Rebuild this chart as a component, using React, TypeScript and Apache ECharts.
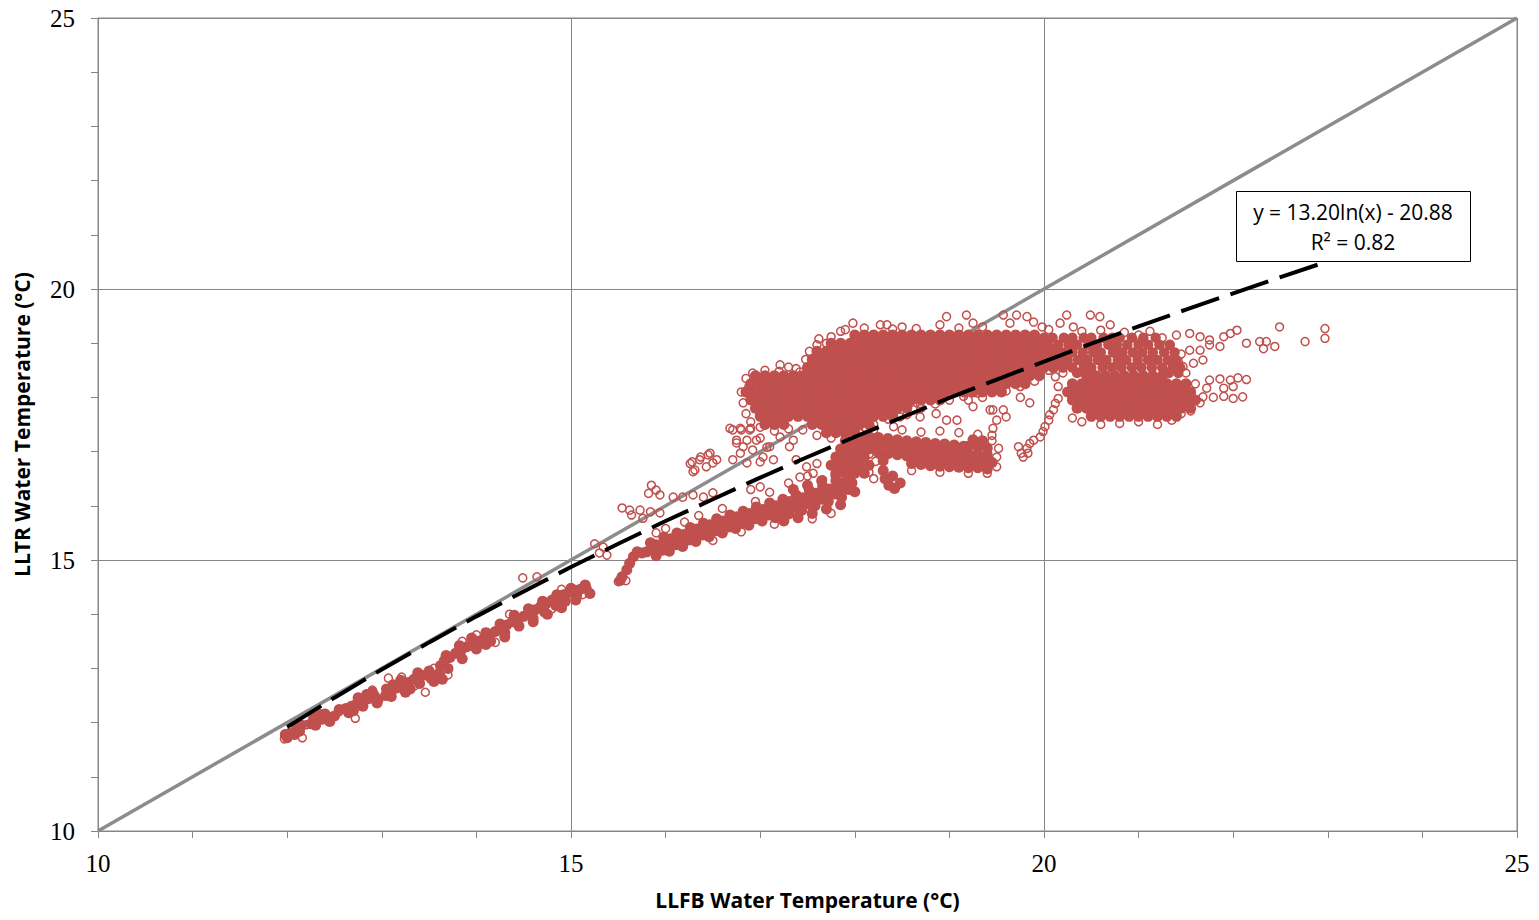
import React, { useEffect, useRef } from "react";
import * as echarts from "echarts";

// Axis settings (°C)
const AXIS_MIN = 10;
const AXIS_MAX = 25;
const AXIS_STEP = 5;

// 1:1 reference line
const DIAG_X = [10, 25];
const DIAG_Y = [10, 25];

// Logarithmic trend line y = 13.20ln(x) - 20.88
const TREND_X = [12, 12.5, 13, 13.5, 14, 14.5, 15, 15.5, 16, 16.5, 17, 17.5, 18, 18.5, 19, 19.5, 20, 20.5, 21, 21.5, 22, 22.5, 23];
const TREND_Y = [11.92, 12.46, 12.98, 13.48, 13.96, 14.42, 14.87, 15.3, 15.72, 16.12, 16.52, 16.9, 17.27, 17.63, 17.99, 18.33, 18.66, 18.99, 19.31, 19.62, 19.92, 20.22, 20.51];

const EQUATION = "y = 13.20ln(x) - 20.88";
const R2_TEXT = "R² = 0.82";

// Dense (solid-looking) parts of the cloud: each row is [y, x1, x2, ...]
const UPPER_CORE_ROWS: number[][] = [
  [19.15, 18.0, 18.1, 18.2, 18.3, 18.4, 18.5, 18.6, 18.7, 18.8, 18.9, 19.0, 19.1, 19.2, 19.3, 19.4, 19.5, 19.6, 19.7, 19.8, 19.9],
  [19.0, 17.75, 17.85, 17.95, 18.05, 18.15, 18.25, 18.35, 18.45, 18.55, 18.65, 18.75, 18.85, 18.95, 19.05, 19.15, 19.25, 19.35, 19.45, 19.55, 19.65, 19.75, 19.85, 19.95],
  [18.85, 17.6, 17.7, 17.8, 17.9, 18.0, 18.1, 18.2, 18.3, 18.4, 18.5, 18.6, 18.7, 18.8, 18.9, 19.0, 19.1, 19.2, 19.3, 19.4, 19.5, 19.6, 19.7, 19.8, 19.9, 20.0, 20.1],
  [18.7, 17.55, 17.65, 17.75, 17.85, 17.95, 18.05, 18.15, 18.25, 18.35, 18.45, 18.55, 18.65, 18.75, 18.85, 18.95, 19.05, 19.15, 19.25, 19.35, 19.45, 19.55, 19.65, 19.75, 19.85, 19.95, 20.05, 20.15],
  [18.55, 17.5, 17.6, 17.7, 17.8, 17.9, 18.0, 18.1, 18.2, 18.3, 18.4, 18.5, 18.6, 18.7, 18.8, 18.9, 19.0, 19.1, 19.2, 19.3, 19.4, 19.5, 19.6, 19.7, 19.8, 19.9, 20.0, 20.1],
  [18.4, 16.95, 17.05, 17.15, 17.25, 17.35, 17.45, 17.55, 17.65, 17.75, 17.85, 17.95, 18.05, 18.15, 18.25, 18.35, 18.45, 18.55, 18.65, 18.75, 18.85, 18.95, 19.05, 19.15, 19.25, 19.35, 19.45, 19.55, 19.65, 19.75, 19.85, 19.95, 20.45, 20.55, 20.65, 20.75, 20.85, 20.95, 21.05, 21.15, 21.25],
  [18.25, 16.9, 17.0, 17.1, 17.2, 17.3, 17.4, 17.5, 17.6, 17.7, 17.8, 17.9, 18.0, 18.1, 18.2, 18.3, 18.4, 18.5, 18.6, 18.7, 18.8, 18.9, 19.0, 19.1, 19.2, 19.3, 19.4, 19.5, 19.6, 19.7, 19.8, 20.3, 20.4, 20.5, 20.6, 20.7, 20.8, 20.9, 21.0, 21.1, 21.2, 21.3, 21.4, 21.5],
  [18.1, 16.85, 16.95, 17.05, 17.15, 17.25, 17.35, 17.45, 17.55, 17.65, 17.75, 17.85, 17.95, 18.05, 18.15, 18.25, 18.35, 18.45, 18.55, 18.65, 18.75, 18.85, 18.95, 19.05, 19.15, 19.25, 19.35, 19.45, 19.55, 20.25, 20.35, 20.45, 20.55, 20.65, 20.75, 20.85, 20.95, 21.05, 21.15, 21.25, 21.35, 21.45, 21.55],
  [17.95, 16.9, 17.0, 17.1, 17.2, 17.3, 17.4, 17.5, 17.6, 17.7, 17.8, 17.9, 18.0, 18.1, 18.2, 18.3, 18.4, 18.5, 18.6, 18.7, 18.8, 18.9, 20.3, 20.4, 20.5, 20.6, 20.7, 20.8, 20.9, 21.0, 21.1, 21.2, 21.3, 21.4, 21.5, 21.6],
  [17.8, 16.95, 17.05, 17.15, 17.25, 17.35, 17.45, 17.55, 17.65, 17.75, 17.85, 17.95, 18.05, 18.15, 18.25, 18.35, 18.45, 18.55, 20.35, 20.45, 20.55, 20.65, 20.75, 20.85, 20.95, 21.05, 21.15, 21.25, 21.35, 21.45, 21.55],
  [17.65, 17.0, 17.1, 17.2, 17.3, 17.4, 17.5, 17.6, 17.7, 17.8, 17.9, 18.0, 18.1, 18.2, 18.3, 18.4, 20.5, 20.6, 20.7, 20.8, 20.9, 21.0, 21.1, 21.2, 21.3, 21.4],
  [17.5, 17.05, 17.15, 17.25, 17.55, 17.65, 17.75, 17.85, 17.95, 18.05, 18.15],
  [17.35, 17.7, 17.8, 17.9, 18.0],
  // vertical arm near 18 °C
  [17.2, 17.9, 18.0, 18.1],
  [17.05, 17.85, 17.95, 18.05, 18.15],
  [16.9, 17.8, 17.9, 18.0, 18.1],
  [16.75, 17.75, 17.85, 17.95, 18.05, 18.15],
  [16.6, 17.8, 17.9, 18.0, 18.1],
];

// Medium-density region right of 20 °C (slightly smaller filled marks): [y, x1, x2, ...]
const RIGHT_MEDIUM_ROWS: number[][] = [
  [19.1, 20.0, 20.09, 20.21, 20.3, 20.42, 20.5, 20.63, 20.72, 20.8, 20.93, 21.05, 21.18],
  [18.97, 20.04, 20.15, 20.26, 20.35, 20.47, 20.56, 20.68, 20.77, 20.88, 21.0, 21.1, 21.22, 21.33],
  [18.83, 20.2, 20.3, 20.41, 20.52, 20.6, 20.73, 20.83, 20.94, 21.04, 21.15, 21.27, 21.38],
  [18.69, 20.25, 20.36, 20.46, 20.57, 20.66, 20.78, 20.87, 20.99, 21.1, 21.2, 21.31, 21.4],
  [18.55, 20.2, 20.3, 20.42, 20.5, 20.62, 20.72, 20.82, 20.93, 21.03, 21.14, 21.25, 21.36, 21.44],
  [18.62, 20.12, 20.22],
  [18.76, 20.18],
  [18.45, 20.35, 21.32, 21.42],
];

// Dense slanted bands: [x, y]
const MID_CORE: number[][] = [
  [15.54, 14.69], [15.59, 14.82], [15.62, 14.94], [15.66, 15.06], [15.7, 15.15], [15.75, 15.13], [15.52, 14.62],
  [15.8, 15.15], [15.87, 15.2], [15.94, 15.25], [16.01, 15.3], [16.08, 15.34], [16.15, 15.38], [16.22, 15.43], [16.29, 15.47],
  [16.36, 15.52], [16.43, 15.56], [16.5, 15.6], [16.57, 15.63], [16.64, 15.67], [16.71, 15.7], [16.78, 15.74], [16.85, 15.77],
  [16.92, 15.81], [16.99, 15.85], [17.06, 15.88], [17.13, 15.92], [17.2, 15.95], [17.27, 15.99], [17.34, 16.02], [17.41, 16.06],
  [17.48, 16.09], [17.55, 16.13], [17.62, 16.17], [17.69, 16.22], [17.76, 16.27], [17.83, 16.32], [17.9, 16.37], [17.97, 16.42],
  [15.84, 15.32], [15.98, 15.42], [16.12, 15.5], [16.26, 15.6], [16.4, 15.68], [16.54, 15.76], [16.68, 15.83], [16.82, 15.9],
  [16.96, 15.98], [17.1, 16.05], [17.24, 16.12], [17.38, 16.2], [17.52, 16.28], [17.66, 16.36], [17.8, 16.46], [17.94, 16.56],
  [15.9, 15.08], [16.04, 15.16], [16.18, 15.25], [16.32, 15.34], [16.46, 15.43], [16.6, 15.5], [16.74, 15.58], [16.88, 15.64],
  [17.02, 15.72], [17.16, 15.78], [17.3, 15.85], [17.44, 15.92], [17.58, 16.0], [17.72, 16.08], [17.86, 16.16], [18.0, 16.26],
  [15.9, 15.28], [16.05, 15.39], [16.19, 15.47], [16.33, 15.57], [16.47, 15.65], [16.61, 15.72], [16.75, 15.8], [16.89, 15.86],
  [17.03, 15.93], [17.17, 16.0], [17.31, 16.08], [17.45, 16.15], [17.59, 16.23], [17.73, 16.31], [17.87, 16.42],
  [15.97, 15.18], [16.11, 15.28], [16.25, 15.37], [16.39, 15.46], [16.53, 15.54], [16.67, 15.61], [16.81, 15.68], [16.95, 15.76],
  [17.09, 15.83], [17.23, 15.9], [17.37, 15.96], [17.51, 16.04], [17.65, 16.12], [17.79, 16.22], [17.93, 16.3],
  [17.25, 15.72], [17.4, 15.78], [17.55, 15.86], [17.7, 15.94], [17.85, 16.02],
  [17.35, 16.3], [17.5, 16.38], [17.65, 16.46], [17.8, 16.56],
  [18.3, 16.65], [18.32, 16.5], [18.36, 16.38], [18.42, 16.32], [18.48, 16.42], [18.4, 16.55],
  // ~17 °C band
  [18.15, 17.28], [18.25, 17.26], [18.35, 17.24], [18.45, 17.22], [18.55, 17.2], [18.65, 17.18], [18.75, 17.17], [18.85, 17.15],
  [18.95, 17.14], [19.05, 17.12], [19.15, 17.1],
  [18.2, 17.13], [18.3, 17.12], [18.4, 17.1], [18.5, 17.08], [18.6, 17.06], [18.7, 17.04], [18.8, 17.02], [18.9, 17.0],
  [19.0, 16.99], [19.1, 16.97], [19.2, 16.96], [19.3, 16.95], [19.4, 16.94],
  [18.25, 16.98], [18.35, 16.96], [18.45, 16.94], [18.55, 16.92], [18.65, 16.9], [18.75, 16.88], [18.85, 16.86], [18.95, 16.85],
  [19.05, 16.84], [19.15, 16.83], [19.25, 16.82], [19.35, 16.81], [19.45, 16.8],
  [18.3, 16.83], [18.6, 16.78], [18.7, 16.76], [18.8, 16.74], [18.9, 16.73], [19.0, 16.72], [19.1, 16.71], [19.2, 16.7],
  [19.3, 16.7], [19.4, 16.68],
  [19.2, 17.1], [19.3, 17.08], [19.4, 17.06], [19.25, 17.22], [19.35, 17.2],
];

const LOWER_CORE: number[][] = [
  [11.98, 11.78], [12.03, 11.8], [12.08, 11.78], [12.13, 11.84], [12.0, 11.72], [12.1, 11.9],
  [12.25, 11.98], [12.31, 12.02], [12.37, 12.06], [12.43, 12.1], [12.5, 12.12], [12.28, 12.1], [12.4, 12.16],
  [12.62, 12.26], [12.68, 12.3], [12.74, 12.36], [12.8, 12.4], [12.86, 12.44], [12.92, 12.5], [12.96, 12.42], [12.7, 12.22], [12.84, 12.52],
  [13.04, 12.5], [13.1, 12.58], [13.16, 12.64], [13.22, 12.68], [13.28, 12.74], [13.34, 12.8], [13.4, 12.84], [13.46, 12.88],
  [13.52, 12.82], [13.12, 12.7], [13.3, 12.62],
  [13.6, 12.9], [13.62, 13.05], [13.66, 13.14], [13.72, 13.2], [13.78, 13.28], [13.84, 13.34], [13.9, 13.4], [13.96, 13.46], [13.64, 12.8],
  [14.02, 13.5], [14.08, 13.55], [14.14, 13.62], [14.2, 13.68], [14.26, 13.74], [14.32, 13.8], [14.38, 13.86], [14.44, 13.9],
  [14.1, 13.44], [14.3, 13.66],
  [14.5, 13.96], [14.56, 14.02], [14.62, 14.08], [14.68, 14.14], [14.74, 14.2], [14.8, 14.26], [14.86, 14.32], [14.92, 14.36],
  [14.98, 14.4], [15.04, 14.44], [15.1, 14.46], [15.16, 14.48], [14.6, 13.92], [14.72, 14.04], [14.84, 14.16], [14.94, 14.24], [15.06, 14.34],
  [12.3, 11.95], [12.45, 12.02], [12.65, 12.18], [12.8, 12.3], [12.95, 12.36], [13.1, 12.48], [13.25, 12.56], [13.4, 12.72],
  [13.55, 12.76], [13.7, 13.0], [13.85, 13.18], [14.0, 13.36], [14.15, 13.5], [14.3, 13.58], [14.45, 13.78], [14.6, 13.86],
  [14.75, 14.0], [14.9, 14.12], [15.05, 14.26], [15.2, 14.38],
  [12.15, 11.95], [12.35, 12.15], [12.55, 12.24], [12.75, 12.46], [12.9, 12.56], [13.05, 12.62], [13.2, 12.78], [13.38, 12.92],
  [13.5, 12.95], [13.68, 13.24], [13.82, 13.42], [13.95, 13.56], [14.1, 13.66], [14.25, 13.82], [14.4, 13.98], [14.55, 14.1],
  [14.7, 14.24], [14.85, 14.36], [15.0, 14.48], [15.15, 14.54],
];

// Individually visible open circles: [x, y]
const OPEN_LOWER: number[][] = [
  [12.16, 11.72], [11.97, 11.7], [12.05, 11.88], [12.2, 11.96], [12.72, 12.08], [12.55, 12.2], [13.07, 12.82], [13.21, 12.84],
  [13.46, 12.56], [13.35, 12.68], [13.7, 12.88], [13.55, 13.0], [14.49, 14.67], [14.64, 14.69], [14.2, 13.48], [14.0, 13.62],
  [14.35, 14.0], [14.8, 14.1], [15.12, 14.36], [12.9, 12.6], [13.85, 13.5], [14.9, 14.46],
];

const OPEN_MID: number[][] = [
  [15.34, 15.24], [15.38, 15.09], [15.3, 15.13], [15.25, 15.3], [15.54, 15.96], [15.62, 15.92], [15.73, 15.92], [15.84, 15.89],
  [15.94, 15.87], [15.64, 15.83], [15.76, 15.77], [15.85, 16.38], [15.9, 16.29], [15.94, 16.2], [15.82, 16.23], [16.08, 16.16],
  [16.18, 16.16], [16.29, 16.2], [16.4, 16.16], [16.5, 16.24], [16.28, 16.81], [16.36, 16.85], [16.45, 16.94], [16.5, 16.79],
  [16.31, 16.66], [16.26, 16.78], [16.37, 16.9], [16.47, 16.97], [16.29, 16.63], [16.43, 16.72], [16.54, 16.85], [16.71, 17.4],
  [16.8, 17.4], [16.89, 17.4], [16.75, 17.16], [16.86, 17.21], [17.0, 17.25], [17.07, 17.08], [16.79, 16.97], [16.92, 17.03],
  [17.03, 16.9], [16.71, 16.85], [16.86, 16.79], [17.0, 16.81], [17.14, 16.85], [16.68, 17.43], [16.79, 17.43], [16.9, 17.43],
  [16.75, 17.21], [16.96, 17.21], [17.1, 17.09], [16.82, 17.09], [17.31, 17.09], [17.21, 17.27], [17.35, 17.21], [17.38, 16.85],
  [17.49, 16.72], [17.6, 16.78], [17.42, 16.53], [17.56, 16.6], [17.66, 16.48], [15.5, 14.6], [15.58, 14.62],
  [15.9, 15.5], [16.0, 15.58], [16.2, 15.7], [16.35, 15.82], [16.6, 15.95], [16.95, 16.08], [17.3, 16.42], [17.5, 16.55],
  [16.5, 15.36], [16.8, 15.52], [17.15, 15.66], [17.55, 15.76], [17.75, 15.86], [16.9, 16.3], [17.0, 16.35], [17.1, 16.25],
  [18.5, 17.4], [18.7, 17.36], [18.9, 17.38], [19.1, 17.35], [19.3, 17.32], [19.45, 17.2], [19.5, 16.9], [18.6, 16.65],
  [18.9, 16.62], [19.2, 16.6], [19.4, 16.6], [18.2, 17.4], [18.1, 17.45], [19.52, 17.06], [18.15, 16.62], [18.2, 16.5],
  [18.15, 16.95], [18.22, 16.82], [19.5, 16.72], [19.45, 17.3],
];

const OPEN_UPPER: number[][] = [
  [17.21, 18.6], [17.3, 18.56], [17.38, 18.53], [17.42, 18.47], [17.6, 18.97], [17.7, 19.0], [17.98, 19.37], [18.27, 19.34],
  [18.34, 19.34], [18.5, 19.3], [16.9, 18.01], [16.95, 18.32], [16.85, 17.7], [16.88, 18.2],
  [16.82, 17.9], [16.8, 18.1], [16.85, 18.35], [16.92, 18.45], [17.05, 18.5], [17.2, 18.48], [16.9, 17.55], [17.0, 17.45],
  [17.15, 17.38], [17.3, 17.42], [17.45, 17.4],
  [17.6, 17.3], [17.75, 17.25], [17.9, 17.28], [18.05, 17.35], [18.2, 17.5], [18.35, 17.6], [18.55, 17.68], [18.7, 17.8],
  [18.85, 17.88], [19.0, 17.95], [19.15, 18.02], [19.3, 18.08], [19.45, 18.1], [19.6, 18.12], [19.75, 18.2], [19.9, 18.3],
  [17.48, 18.7], [17.52, 18.85], [17.62, 19.08], [17.75, 19.12], [17.9, 19.25],
  [17.85, 19.22], [18.1, 19.28], [18.4, 19.26], [18.65, 19.27], [18.9, 19.34], [18.97, 19.49], [19.18, 19.52], [19.25, 19.37],
  [19.1, 19.28], [19.35, 19.3], [19.57, 19.52], [19.71, 19.52], [19.82, 19.49], [19.89, 19.39], [19.64, 19.37], [20.24, 19.52],
  [20.49, 19.52], [20.59, 19.49], [20.7, 19.34], [20.17, 19.37], [20.31, 19.3], [20.05, 19.25], [19.98, 19.3], [20.4, 19.22], [20.6, 19.24],
  [20.85, 19.2], [21.0, 19.15], [21.12, 19.22], [21.25, 19.1], [21.3, 18.95], [21.45, 18.8], [21.42, 18.66], [21.5, 18.45],
  [21.4, 19.15], [21.54, 19.18], [21.65, 19.12], [21.75, 19.06], [21.9, 19.12], [21.97, 19.18], [22.04, 19.24], [21.54, 18.87],
  [21.65, 18.87], [21.75, 18.97], [21.86, 18.94], [21.47, 18.57], [21.58, 18.63], [21.68, 18.69], [22.14, 19.0], [22.28, 19.03],
  [22.35, 19.03], [22.44, 18.94], [22.32, 18.9], [22.49, 19.3], [22.76, 19.03], [22.97, 19.27], [22.97, 19.09],
  [21.75, 18.32], [21.86, 18.34], [21.97, 18.32], [22.05, 18.36], [22.14, 18.33], [21.68, 18.01], [21.79, 18.0], [21.9, 18.02],
  [22.0, 17.98], [22.1, 18.01], [21.72, 18.17], [21.9, 18.17], [22.0, 18.2], [21.6, 18.25], [21.65, 17.9], [21.55, 17.75], [21.45, 17.7],
  [19.76, 16.97], [19.82, 17.06], [19.85, 17.15], [19.89, 17.21], [19.96, 17.27], [19.99, 17.37], [20.01, 17.46], [20.05, 17.58],
  [20.06, 17.68], [20.1, 17.77], [20.12, 17.89], [20.15, 17.98], [19.73, 17.09], [19.78, 16.9], [19.83, 16.97],
  [19.46, 17.77], [19.57, 17.77], [19.5, 17.58], [19.6, 17.64], [19.46, 17.43], [19.43, 16.79],
  [18.25, 17.8], [18.39, 17.77], [18.48, 17.64], [18.41, 17.46], [18.62, 17.77], [18.69, 17.64], [18.69, 17.89],
  [18.86, 17.7], [18.97, 17.58], [19.08, 17.58], [19.25, 17.83], [19.43, 17.77], [19.2, 17.95], [19.35, 18.0],
  [20.4, 17.55], [20.6, 17.5], [20.8, 17.52], [21.0, 17.55], [21.2, 17.5], [21.35, 17.58], [20.3, 17.62],
  [19.75, 18.0], [19.85, 17.9], [20.2, 18.45], [20.15, 18.2], [20.05, 18.5], [20.12, 18.38],
];

const RED = "#C0504D";
const GRID_GREY = "#868686";

export default function App() {
  const ref = useRef<HTMLDivElement>(null);

  useEffect(() => {
    if (!ref.current) return;
    const chart = echarts.init(ref.current, undefined, { renderer: "svg" });

    const fromRows = (rows: number[][]) => rows.flatMap(([y, ...xs]) => xs.map((x) => [x, y]));
    const corePoints = [...fromRows(UPPER_CORE_ROWS), ...MID_CORE, ...LOWER_CORE];
    const mediumPoints = fromRows(RIGHT_MEDIUM_ROWS);
    const openPoints = [...OPEN_LOWER, ...OPEN_MID, ...OPEN_UPPER];
    const diag = DIAG_X.map((x, i) => [x, DIAG_Y[i]]);
    const trend = TREND_X.map((x, i) => [x, TREND_Y[i]]);

    const tickLabel = {
      color: "#000",
      fontFamily: "Liberation Serif",
      fontSize: 25,
    };
    const titleStyle = {
      color: "#000",
      fontFamily: "Open Sans",
      fontWeight: "bold" as const,
      fontSize: 21,
    };

    chart.setOption({
      animation: false,
      backgroundColor: "#ffffff",
      grid: {
        left: 98,
        right: 22,
        top: 18,
        bottom: 89,
        show: true,
        borderColor: GRID_GREY,
        borderWidth: 1,
        backgroundColor: "transparent",
      },
      xAxis: {
        type: "value",
        min: AXIS_MIN,
        max: AXIS_MAX,
        interval: AXIS_STEP,
        name: "LLFB Water Temperature (°C)",
        nameLocation: "middle",
        nameGap: 58,
        nameTextStyle: titleStyle,
        axisLine: { show: true, lineStyle: { color: GRID_GREY, width: 1 } },
        axisTick: { show: true, inside: false, length: 7, lineStyle: { color: GRID_GREY } },
        minorTick: { show: true, splitNumber: 5, length: 7, lineStyle: { color: GRID_GREY } },
        splitLine: { show: true, lineStyle: { color: GRID_GREY, width: 1 } },
        axisLabel: { ...tickLabel, margin: 20 },
      },
      yAxis: {
        type: "value",
        min: AXIS_MIN,
        max: AXIS_MAX,
        interval: AXIS_STEP,
        name: "LLTR Water Temperature (°C)",
        nameLocation: "middle",
        nameGap: 66,
        nameTextStyle: titleStyle,
        axisLine: { show: true, lineStyle: { color: GRID_GREY, width: 1 } },
        axisTick: { show: true, inside: false, length: 7, lineStyle: { color: GRID_GREY } },
        minorTick: { show: true, splitNumber: 5, length: 7, lineStyle: { color: GRID_GREY } },
        splitLine: { show: true, lineStyle: { color: GRID_GREY, width: 1 } },
        axisLabel: { ...tickLabel, margin: 23 },
      },
      series: [
        {
          type: "line",
          data: diag,
          symbol: "none",
          silent: true,
          z: 1,
          lineStyle: { color: "#8c8c8c", width: 3.5 },
        },
        {
          type: "scatter",
          data: corePoints,
          symbol: "circle",
          symbolSize: 11,
          silent: true,
          z: 2,
          itemStyle: { color: RED, opacity: 1 },
        },
        {
          type: "scatter",
          data: mediumPoints,
          symbol: "circle",
          symbolSize: 10.5,
          silent: true,
          z: 2,
          itemStyle: { color: RED, opacity: 1 },
        },
        {
          type: "scatter",
          data: openPoints,
          symbol: "circle",
          symbolSize: 8,
          silent: true,
          z: 3,
          itemStyle: { color: "rgba(0,0,0,0)", borderColor: RED, borderWidth: 1.5, opacity: 1 },
        },
        {
          type: "line",
          data: trend,
          symbol: "none",
          smooth: false,
          silent: true,
          z: 4,
          lineStyle: { color: "#000", width: 4, type: [40, 12] },
        },
      ],
      graphic: [
        {
          type: "rect",
          z: 100,
          shape: { x: 1236.5, y: 191.5, width: 234, height: 70 },
          style: { fill: "#fff", stroke: "#000", lineWidth: 1 },
        },
        {
          type: "text",
          z: 101,
          x: 1353,
          y: 212,
          style: {
            text: EQUATION,
            fill: "#000",
            fontFamily: "Open Sans",
            fontSize: 21,
            align: "center",
            verticalAlign: "middle",
          },
        },
        {
          type: "text",
          z: 101,
          x: 1353,
          y: 242,
          style: {
            text: R2_TEXT,
            fill: "#000",
            fontFamily: "Open Sans",
            fontSize: 21,
            align: "center",
            verticalAlign: "middle",
          },
        },
      ],
    });

    return () => chart.dispose();
  }, []);

  return (
    <div
      ref={ref}
      style={{ position: "absolute", left: 0, top: 0, width: 1539, height: 920, background: "#fff" }}
    />
  );
}
